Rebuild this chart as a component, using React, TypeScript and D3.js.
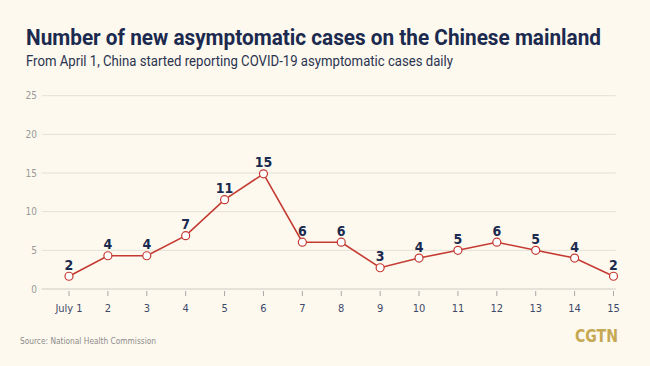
import React from "react";
import * as d3 from "d3";

const days = [1, 2, 3, 4, 5, 6, 7, 8, 9, 10, 11, 12, 13, 14, 15];
const dayLabels = ["July 1", "2", "3", "4", "5", "6", "7", "8", "9", "10", "11", "12", "13", "14", "15"];
const plotted = [1.65, 4.3, 4.3, 6.9, 11.55, 14.9, 6.05, 6.05, 2.75, 4.0, 5.0, 6.05, 5.0, 4.0, 1.65];
const valueLabels = ["2", "4", "4", "7", "11", "15", "6", "6", "3", "4", "5", "6", "5", "4", "2"];
const yTicks = [0, 5, 10, 15, 20, 25];

const W = 650;
const H = 366;

export default function App() {
  const x = d3.scalePoint<number>().domain(days).range([69, 613.5]);
  const y = d3.scaleLinear().domain([0, 25]).range([289, 95.7]);
  const line = d3
    .line<number>()
    .x((_, i) => x(days[i]) as number)
    .y((d) => y(d));
  const font = "'DejaVu Sans Condensed', 'Roboto', sans-serif";
  return (
    <svg width={W} height={H} style={{ position: "absolute", left: 0, top: 0 }}>
      <rect width={W} height={H} fill="#FDF9EE" />
      <text x={26} y={44.5} fontFamily="Roboto, sans-serif" fontWeight={700} fontSize={22} fill="#1B2A4E" textLength={575} lengthAdjust="spacingAndGlyphs">
        Number of new asymptomatic cases on the Chinese mainland
      </text>
      <text x={26} y={65.5} fontFamily="Roboto, sans-serif" fontSize={14} fill="#2A3350" textLength={427} lengthAdjust="spacingAndGlyphs">
        From April 1, China started reporting COVID-19 asymptomatic cases daily
      </text>
      {yTicks.map((t) => (
        <g key={t}>
          <line x1={41.7} x2={615.7} y1={y(t)} y2={y(t)} stroke={t === 0 ? "#CFCBC2" : "#E4E0D6"} strokeWidth={1} />
          <text x={37} y={y(t) + 3.5} textAnchor="end" fontFamily={font} fontSize={10} fill="#9A9A9A">
            {t}
          </text>
        </g>
      ))}
      {days.map((d, i) => (
        <g key={d}>
          <line x1={x(d)} x2={x(d)} y1={291} y2={296} stroke="#A8A8A8" strokeWidth={1} />
          <text x={x(d)} y={312} textAnchor="middle" fontFamily={font} fontSize={11} fill="#3E4A6A">
            {dayLabels[i]}
          </text>
        </g>
      ))}
      <path d={line(plotted) || ""} fill="none" stroke="#C43A33" strokeWidth={1.6} />
      {plotted.map((v, i) => (
        <circle key={i} cx={x(days[i])} cy={y(v)} r={4} fill="#FFFFFF" stroke="#C43A33" strokeWidth={1.2} />
      ))}
      {plotted.map((v, i) => (
        <text key={i} x={x(days[i])} y={y(v) - 6.5} textAnchor="middle" fontFamily={font} fontWeight={700} fontSize={14} fill="#1B2A4E">
          {valueLabels[i]}
        </text>
      ))}
      <text x={20} y={344} fontFamily={font} fontSize={9.5} fill="#8C8C8C" textLength={136} lengthAdjust="spacingAndGlyphs">
        Source: National Health Commission
      </text>
      <text x={618} y={342} textAnchor="end" fontFamily={font} fontWeight={700} fontSize={17} fill="#C6A852" textLength={43} lengthAdjust="spacingAndGlyphs">
        CGTN
      </text>
    </svg>
  );
}
